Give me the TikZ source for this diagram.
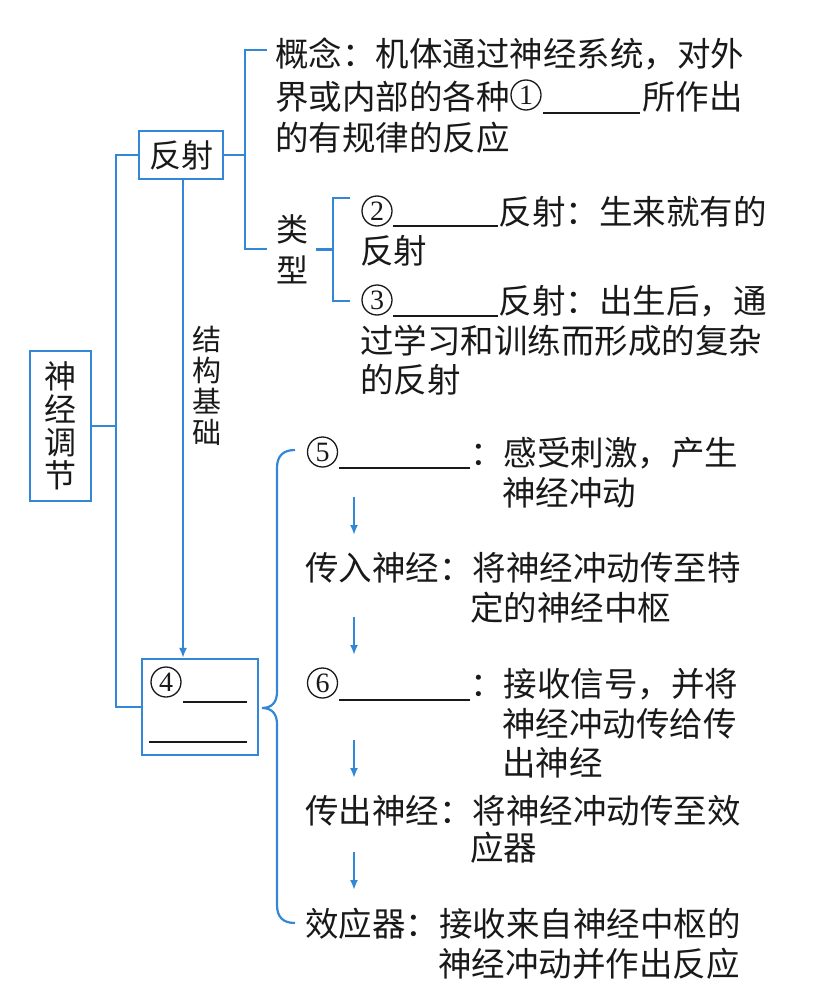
\documentclass[tikz,border=0pt]{standalone}
\usepackage{fontspec}
\setmainfont{Noto Sans CJK SC}
\newfontfamily\numfont{Liberation Serif}
\usetikzlibrary{arrows.meta}
\definecolor{lineblue}{RGB}{50,135,215}
\definecolor{inkblack}{RGB}{25,25,25}
\begin{document}
\begin{tikzpicture}[x=1pt,y=-1pt,
  conn/.style={draw=lineblue,line width=2.2pt},
  arr/.style={draw=lineblue,line width=2pt,-{Latex[length=10pt,width=8pt]}},
  txt/.style={anchor=base west,inner sep=0pt,text=inkblack,font=\fontsize{33.5}{40}\selectfont},
  vtxt/.style={inner sep=0pt,text=inkblack,align=center},
  boxnode/.style={draw=lineblue,line width=2.2pt,inner sep=0pt,align=center,text=inkblack},
  cnum/.style={circle,draw=inkblack,line width=1.3pt,minimum size=30pt,inner sep=0pt,text=inkblack,font=\numfont\fontsize{28}{28}\selectfont},
  blank/.style={draw=inkblack,line width=1.5pt}
]
\useasboundingbox (0,0) rectangle (834,1006);

% ---------- left column ----------
\node[boxnode,minimum width=61pt,minimum height=150pt,font=\fontsize{32}{33}\selectfont] (sjtj) at (60.5,426) {神\\经\\调\\节};
\node[boxnode,minimum width=84pt,minimum height=48pt,font=\fontsize{32}{32}\selectfont] (fs) at (181,155) {反射};
\node[boxnode,minimum width=116pt,minimum height=96pt] (b4) at (200,707) {};
\node[cnum] (n4) at (166,682) {4};
\coordinate (b4l1a) at (183,702);
\coordinate (b4l1b) at (247,702);
\coordinate (b4l2a) at (149,742);
\coordinate (b4l2b) at (247,742);
\draw[blank] (b4l1a) -- (b4l1b);
\draw[blank] (b4l2a) -- (b4l2b);

\coordinate (trunk) at (116,0);
\draw[conn] (sjtj.east) -- (sjtj.east -| trunk);
\draw[conn] (fs.west) -- (fs.west -| trunk) -- (b4.west -| trunk) -- (b4.west);

\coordinate (ax) at (183,0);
\draw[arr] (fs.south -| ax) -- (b4.north -| ax);
\node[vtxt,font=\fontsize{29}{31}\selectfont] (jg) at (207,386) {结\\构\\基\\础};

% ---------- reflex branch ----------
\coordinate (fsx) at (245,155);
\coordinate (gtop) at (267,50);
\coordinate (gbot) at (267,249);
\draw[conn] (fs.east) -- (fsx);
\draw[conn] (gtop) -- (245,50) -- (245,249) -- (gbot);

\node[txt] (c1) at (275,67) {概念：机体通过神经系统，对外};
\node[txt] (c2) at (275,110) {界或内部的各种};
\node[cnum] (k1) at (526,95) {1};
\draw[blank] (543,113) -- (640,113);
\node[txt] (c2b) at (642,110) {所作出};
\node[txt] (c3) at (275,150) {的有规律的反应};

\node[vtxt,font=\fontsize{32}{41}\selectfont] (lx) at (292.5,249.5) {类\\型};
\coordinate (ltop) at (350,198);
\coordinate (lbot) at (350,301);
\draw[conn] ([xshift=7pt]lx.east) -- (333,249.5);
\draw[conn] (ltop) -- (333,198) -- (333,301) -- (lbot);

\node[cnum] (k2) at (377,211) {2};
\draw[blank] (393,226) -- (498,226);
\node[txt] (r2a) at (498.5,224) {反射：生来就有的};
\node[txt] (r2b) at (360,263) {反射};
\node[cnum] (k3) at (377,300) {3};
\draw[blank] (393,316) -- (498,316);
\node[txt] (r3a) at (498.5,313) {反射：出生后，通};
\node[txt] (r3b) at (360,353) {过学习和训练而形成的复杂};
\node[txt] (r3c) at (360,392) {的反射};

% ---------- reflex arc ----------
\coordinate (btop) at (295,450);
\coordinate (bbot) at (295,923);
\coordinate (btip) at (262,708);
\draw[conn] (btop) .. controls (283,450) and (277,456) .. (277,468)
  -- (277,692) .. controls (277,702) and (272,708) .. (btip)
  .. controls (272,708) and (277,714) .. (277,724)
  -- (277,905) .. controls (277,917) and (283,923) .. (bbot);

\node[cnum] (k5) at (322.5,452) {5};
\draw[blank] (339,468) -- (470,468);
\node[txt] (s5a) at (470,465) {：感受刺激，产生};
\node[txt] (s5b) at (502,505) {神经冲动};
\node[txt] (s1a) at (305,580) {传入神经：将神经冲动传至特};
\node[txt] (s1b) at (470,620) {定的神经中枢};
\node[cnum] (k6) at (322.5,683) {6};
\draw[blank] (339,700) -- (470,700);
\node[txt] (s6a) at (470,696) {：接收信号，并将};
\node[txt] (s6b) at (502,736) {神经冲动传给传};
\node[txt] (s6c) at (502,775) {出神经};
\node[txt] (s2a) at (305,823) {传出神经：将神经冲动传至效};
\node[txt] (s2b) at (470,860) {应器};
\node[txt] (s3a) at (305,936) {效应器：接收来自神经中枢的};
\node[txt] (s3b) at (438,976) {神经冲动并作出反应};

\coordinate (a1s) at (354,497); \coordinate (a1e) at (354,535);
\coordinate (a2s) at (354,617); \coordinate (a2e) at (354,655);
\coordinate (a3s) at (354,740); \coordinate (a3e) at (354,778);
\coordinate (a4s) at (354,852); \coordinate (a4e) at (354,890);
\draw[arr] (a1s) -- (a1e);
\draw[arr] (a2s) -- (a2e);
\draw[arr] (a3s) -- (a3e);
\draw[arr] (a4s) -- (a4e);
\end{tikzpicture}
\end{document}
